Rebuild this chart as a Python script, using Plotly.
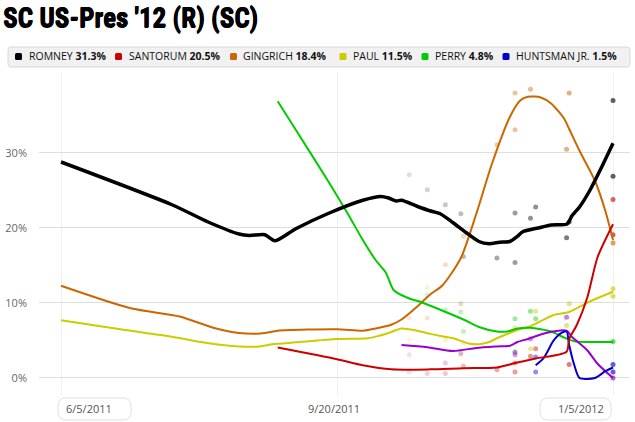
import plotly.graph_objects as go
import pandas as pd

# ---------------- data ----------------
candidates = ["ROMNEY", "SANTORUM", "GINGRICH", "PAUL", "PERRY", "HUNTSMAN JR."]
latest = ["31.3%", "20.5%", "18.4%", "11.5%", "4.8%", "1.5%"]

romney_dates = ["2011-06-05", "2011-07-18", "2011-08-01", "2011-08-13", "2011-08-17", "2011-08-23",
                "2011-08-27", "2011-09-04", "2011-09-17", "2011-09-30", "2011-10-07", "2011-10-10",
                "2011-10-13", "2011-10-15", "2011-10-21", "2011-10-26", "2011-10-30", "2011-11-04",
                "2011-11-09", "2011-11-14", "2011-11-18", "2011-11-22", "2011-11-26", "2011-11-29",
                "2011-12-01", "2011-12-07", "2011-12-12", "2011-12-18", "2011-12-19", "2011-12-20",
                "2011-12-21", "2011-12-23", "2011-12-27", "2011-12-31", "2012-01-05"]
romney_vals = [28.8, 23.1, 20.8, 19.2, 19.0, 19.1, 18.3, 19.9, 22.0, 23.7, 24.2, 24.0, 23.6, 23.7,
               22.9, 22.3, 21.9, 20.7, 19.4, 18.2, 17.9, 18.1, 18.2, 18.9, 19.5, 20.0, 20.4, 20.5,
               20.9, 21.6, 22.0, 22.8, 25.0, 27.7, 31.3]

gingrich_dates = ["2011-06-05", "2011-07-02", "2011-07-21", "2011-08-03", "2011-08-13", "2011-08-20",
                  "2011-08-23", "2011-08-28", "2011-09-20", "2011-09-30", "2011-10-05", "2011-10-11",
                  "2011-10-15", "2011-10-21", "2011-10-26", "2011-10-31", "2011-11-07", "2011-11-13",
                  "2011-11-19", "2011-11-26", "2011-11-30", "2011-12-03", "2011-12-08", "2011-12-12",
                  "2011-12-17", "2011-12-19", "2011-12-23", "2011-12-29", "2012-01-02", "2012-01-05"]
gingrich_vals = [12.3, 9.3, 8.2, 6.7, 6.0, 5.9, 6.0, 6.3, 6.5, 6.3, 6.6, 7.1, 7.8, 9.5, 11.1, 12.4,
                 16.0, 21.9, 28.5, 34.8, 37.0, 37.5, 37.4, 36.6, 34.6, 33.2, 30.3, 26.3, 22.3, 18.4]

paul_dates = ["2011-06-05", "2011-06-28", "2011-07-18", "2011-07-31", "2011-08-13", "2011-08-21",
              "2011-08-26", "2011-09-04", "2011-09-20", "2011-10-02", "2011-10-06", "2011-10-10",
              "2011-10-15", "2011-10-21", "2011-10-26", "2011-10-30", "2011-11-04", "2011-11-10",
              "2011-11-14", "2011-11-18", "2011-11-21", "2011-11-26", "2011-11-29", "2011-12-04",
              "2011-12-13", "2011-12-19", "2011-12-27", "2012-01-05"]
paul_vals = [7.7, 6.5, 5.5, 4.7, 4.2, 4.2, 4.5, 4.75, 5.2, 5.3, 5.6, 6.0, 6.6, 6.3, 5.9, 5.6, 5.3,
             4.6, 4.5, 4.8, 5.3, 6.0, 6.4, 6.9, 8.4, 8.8, 10.2, 11.5]

perry_dates = ["2011-08-28", "2011-09-04", "2011-09-17", "2011-09-24", "2011-09-30", "2011-10-05",
               "2011-10-09", "2011-10-12", "2011-10-18", "2011-10-22", "2011-10-30", "2011-11-08",
               "2011-11-14", "2011-11-21", "2011-11-25", "2011-11-29", "2011-12-04", "2011-12-12",
               "2011-12-17", "2011-12-21", "2011-12-26", "2012-01-05"]
perry_vals = [36.9, 33.1, 26.0, 22.0, 18.4, 15.7, 14.0, 11.7, 10.6, 10.2, 9.1, 7.8, 6.8, 6.2, 6.2,
              6.6, 6.7, 6.2, 5.4, 4.9, 4.8, 4.8]

santorum_dates = ["2011-08-28", "2011-09-20", "2011-09-30", "2011-10-11", "2011-10-26", "2011-11-08",
                  "2011-11-21", "2011-11-26", "2011-11-28", "2011-12-06", "2011-12-18", "2011-12-19",
                  "2011-12-22", "2011-12-26", "2011-12-30", "2012-01-05"]
santorum_vals = [4.05, 2.5, 1.7, 1.15, 1.15, 1.3, 1.4, 1.8, 2.0, 2.6, 3.5, 5.2, 7.1, 10.7, 16.1, 20.5]

bachmann_dates = ["2011-10-15", "2011-10-25", "2011-11-04", "2011-11-13", "2011-11-21", "2011-11-26",
                  "2011-11-29", "2011-12-03", "2011-12-10", "2011-12-18", "2011-12-20", "2011-12-26",
                  "2011-12-30", "2012-01-05"]
bachmann_vals = [4.4, 4.1, 3.6, 4.0, 4.2, 4.3, 4.8, 5.2, 6.0, 6.3, 5.5, 3.7, 1.9, 0.0]

huntsman_dates = ["2011-12-06", "2011-12-09", "2011-12-13", "2011-12-16", "2011-12-18", "2011-12-19",
                  "2011-12-21", "2011-12-23", "2011-12-29", "2012-01-02", "2012-01-05"]
huntsman_vals = [1.7, 2.6, 5.0, 6.0, 6.2, 4.4, 1.7, 0.0, 0.0, 0.9, 1.4]

# individual polls
romney_poll_dates = ["2011-10-18", "2011-10-25", "2011-11-01", "2011-11-07", "2011-11-08", "2011-11-21",
                     "2011-11-28", "2011-11-28", "2011-12-04", "2011-12-06", "2011-12-18", "2011-12-19",
                     "2012-01-05", "2012-01-05"]
romney_poll_vals = [27.1, 25.1, 23.1, 21.9, 16.2, 16.0, 22.0, 15.4, 21.3, 22.8, 18.7, 20.8, 37.0, 26.9]

gingrich_poll_dates = ["2011-10-18", "2011-10-25", "2011-11-01", "2011-11-07", "2011-11-08", "2011-11-21",
                       "2011-11-28", "2011-11-28", "2011-12-04", "2011-12-18", "2011-12-19", "2012-01-05"]
gingrich_poll_vals = [8.0, 8.0, 15.1, 9.9, 18.9, 31.1, 38.0, 33.1, 38.5, 30.5, 38.0, 18.0]

paul_poll_dates = ["2011-10-18", "2011-10-25", "2011-11-01", "2011-11-07", "2011-11-08", "2011-11-28",
                   "2011-12-04", "2011-12-06", "2011-12-18", "2011-12-19", "2012-01-05", "2012-01-05"]
paul_poll_vals = [5.1, 12.1, 5.1, 3.1, 4.7, 6.7, 3.9, 8.9, 7.0, 9.9, 11.9, 10.9]

perry_poll_dates = ["2011-10-25", "2011-11-01", "2011-11-07", "2011-11-08", "2011-11-28", "2011-11-28",
                    "2011-12-04", "2011-12-06", "2012-01-05"]
perry_poll_vals = [11.1, 9.1, 8.8, 6.2, 7.9, 3.5, 8.9, 7.9, 4.85]

santorum_poll_dates = ["2011-10-18", "2011-10-25", "2011-11-01", "2011-11-08", "2011-11-21", "2011-11-28",
                       "2011-11-28", "2011-12-04", "2011-12-06", "2011-12-19", "2012-01-05", "2012-01-05"]
santorum_poll_vals = [0.8, 0.6, 0.6, 1.6, 1.1, 2.0, 0.8, 2.9, 3.9, 1.8, 23.8, 19.1]

bachmann_poll_dates = ["2011-10-18", "2011-11-01", "2011-11-07", "2011-11-28", "2011-11-28", "2011-12-04",
                       "2011-12-18", "2012-01-05"]
bachmann_poll_vals = [3.1, 2.0, 3.3, 3.4, 3.1, 5.2, 8.1, 0.0]

huntsman_poll_dates = ["2011-12-06", "2011-12-06", "2012-01-05", "2012-01-05"]
huntsman_poll_vals = [2.8, 0.8, 1.8, 0.8]

y_ticks = [0, 10, 20, 30]
y_tick_labels = ["0%", "10%", "20%", "30%"]
x_tick_dates = ["2011-06-05", "2011-09-20", "2012-01-05"]
x_tick_labels = ["6/5/2011", "9/20/2011", "1/5/2012"]

# ---------------- styling ----------------
COL = {"ROMNEY": "#000000", "SANTORUM": "#CC0000", "GINGRICH": "#CC6600", "PAUL": "#CCCC00",
       "PERRY": "#00CC00", "HUNTSMAN JR.": "#0000CC", "BACHMANN": "#9900CC"}

W, H = 635, 422
ML, MR, MT, MB = 39, 5, 72, 27
PW, PH = W - ML - MR, H - MT - MB


def px_x(p):
    return (p - ML) / PW


def px_y(p):
    return (H - MB - p) / PH


def rgba(hexc, a):
    h = hexc.lstrip("#")
    return "rgba(%d,%d,%d,%.3f)" % (int(h[0:2], 16), int(h[2:4], 16), int(h[4:6], 16), a)


def rrect(x0, y0, x1, y1, r):
    # rounded rect path, pixel input -> paper coords
    rx, ry = r / PW, r / PH
    X0, X1 = px_x(x0), px_x(x1)
    Y0, Y1 = px_y(y0), px_y(y1)  # Y0 top, Y1 bottom
    return (f"M{X0+rx},{Y0} L{X1-rx},{Y0} Q{X1},{Y0} {X1},{Y0-ry} L{X1},{Y1+ry} "
            f"Q{X1},{Y1} {X1-rx},{Y1} L{X0+rx},{Y1} Q{X0},{Y1} {X0},{Y1+ry} "
            f"L{X0},{Y0-ry} Q{X0},{Y0} {X0+rx},{Y0} Z")


END = pd.Timestamp("2012-01-05")


def alphas(dates):
    out = []
    for d in dates:
        days = (END - pd.Timestamp(d)).days
        out.append(max(0.1, min(0.62, 0.62 - days * 0.0062)))
    return out


fig = go.Figure()

polls = [
    ("GINGRICH", gingrich_poll_dates, gingrich_poll_vals),
    ("PAUL", paul_poll_dates, paul_poll_vals),
    ("PERRY", perry_poll_dates, perry_poll_vals),
    ("BACHMANN", bachmann_poll_dates, bachmann_poll_vals),
    ("HUNTSMAN JR.", huntsman_poll_dates, huntsman_poll_vals),
    ("SANTORUM", santorum_poll_dates, santorum_poll_vals),
    ("ROMNEY", romney_poll_dates, romney_poll_vals),
]
for name, d, v in polls:
    fig.add_trace(go.Scatter(
        x=d, y=v, mode="markers", showlegend=False, hoverinfo="skip",
        marker=dict(size=5, color=[rgba(COL[name], a) for a in alphas(d)], line=dict(width=0)),
    ))

trends = [
    ("GINGRICH", gingrich_dates, gingrich_vals, 2),
    ("PAUL", paul_dates, paul_vals, 2),
    ("PERRY", perry_dates, perry_vals, 2),
    ("BACHMANN", bachmann_dates, bachmann_vals, 2),
    ("HUNTSMAN JR.", huntsman_dates, huntsman_vals, 2),
    ("SANTORUM", santorum_dates, santorum_vals, 2),
    ("ROMNEY", romney_dates, romney_vals, 3.5),
]
for name, d, v, w in trends:
    fig.add_trace(go.Scatter(
        x=d, y=v, mode="lines", showlegend=False, hoverinfo="skip",
        line=dict(color=COL[name], width=w, shape="spline", smoothing=0.7),
    ))

shapes = []
annotations = []

# legend bar
shapes.append(dict(type="path", xref="paper", yref="paper", path=rrect(8, 47, 630, 67, 3),
                   fillcolor="#f1f1f1", line=dict(color="#d8d8d8", width=1), layer="below"))
sq_centers = [18.5, 118.5, 233.5, 343, 425, 506]
text_starts = [26.5, 126.5, 241, 351, 433, 514]
for name, val, cx, tx in zip(candidates, latest, sq_centers, text_starts):
    shapes.append(dict(type="path", xref="paper", yref="paper",
                       path=rrect(cx - 3.5, 53, cx + 3.5, 60, 1.5),
                       fillcolor=COL[name], line=dict(width=0)))
    annotations.append(dict(xref="paper", yref="paper", x=px_x(tx), y=px_y(56.5),
                            xanchor="left", yanchor="middle", showarrow=False,
                            text=f"{name} <b>{val}</b>",
                            font=dict(family="Open Sans", size=10.5, color="#111")))

# x-axis date labels with boxes
shapes.append(dict(type="path", xref="paper", yref="paper", path=rrect(58, 398, 131, 420, 8),
                   fillcolor="rgba(255,255,255,0)", line=dict(color="#e0e0e0", width=1)))
shapes.append(dict(type="path", xref="paper", yref="paper", path=rrect(540, 398, 611, 420, 8),
                   fillcolor="rgba(255,255,255,0)", line=dict(color="#e0e0e0", width=1)))
lab_anchor = ["left", "center", "right"]
lab_shift = [3, -3, -7]
for d, t, a, s in zip(x_tick_dates, x_tick_labels, lab_anchor, lab_shift):
    annotations.append(dict(xref="x", yref="paper", x=d, y=px_y(408.5), xanchor=a, yanchor="middle",
                            xshift=s, showarrow=False, text=t,
                            font=dict(family="Open Sans", size=11, color="#555")))

fig.update_layout(
    template="none",
    width=W, height=H,
    margin=dict(l=ML, r=MR, t=MT, b=MB, pad=0),
    paper_bgcolor="white", plot_bgcolor="white",
    title=dict(text="<b>SC US-Pres '12 (R) (SC)</b>", xref="container", yref="container",
               x=3 / W, y=1 - 18 / H, xanchor="left", yanchor="middle",
               font=dict(family="Roboto Condensed, DejaVu Sans Condensed, sans-serif",
                         size=27, color="#000",
                         shadow="0.6px 0px 0px #000, 0px 0.4px 0px #000")),
    showlegend=False,
    hovermode=False,
    shapes=shapes,
    annotations=annotations,
    xaxis=dict(type="date", range=["2011-05-27 11:00", "2012-01-11 14:00"], automargin=False,
               tickvals=x_tick_dates, showticklabels=False, showgrid=True,
               gridcolor="#efefef", gridwidth=1, zeroline=False, showline=False, ticks=""),
    yaxis=dict(range=[-2.27, 40.8], tickvals=y_ticks, ticktext=y_tick_labels, automargin=False,
               showgrid=True, gridcolor="#dddddd", gridwidth=1, zeroline=False, showline=False,
               ticks="", ticklabelstandoff=11,
               tickfont=dict(family="Open Sans", size=11, color="#666")),
)

fig.write_html("out.html", config={"displayModeBar": False},
               post_script="document.body.style.margin='0';document.body.style.padding='0';")
